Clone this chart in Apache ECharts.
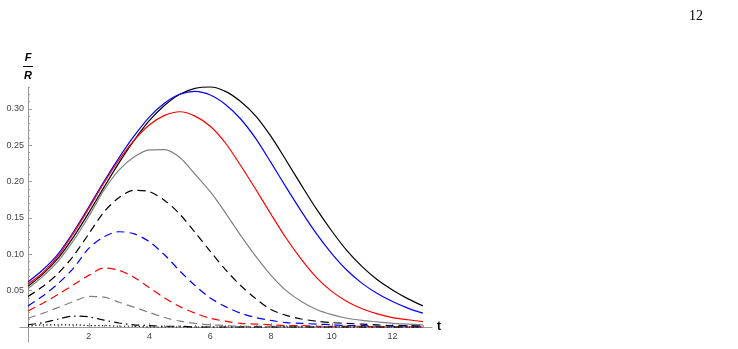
<!DOCTYPE html>
<html>
<head>
<meta charset="utf-8">
<script src="https://cdn.jsdelivr.net/npm/echarts@6/dist/echarts.min.js"></script>
<style>html,body{margin:0;padding:0;background:#fff}#c{width:738px;height:349px}</style>
</head>
<body>
<div id="c"></div>
<script>
const tVals = [0,0.5,1,1.5,2,2.5,3,3.5,4,4.5,5,5.5,6,6.5,7,7.5,8,8.5,9,9.5,10,10.5,11,11.5,12,12.5,13];
const blackSolid = [0.056,0.073,0.095,0.124,0.157,0.192,0.226,0.257,0.284,0.305,0.320,0.328,0.330,0.324,0.310,0.290,0.262,0.229,0.195,0.162,0.132,0.105,0.083,0.065,0.051,0.039,0.029];
const blueSolid  = [0.062,0.079,0.101,0.131,0.165,0.200,0.233,0.263,0.289,0.308,0.320,0.324,0.319,0.306,0.286,0.259,0.226,0.192,0.159,0.128,0.101,0.078,0.060,0.046,0.035,0.026,0.019];
const redSolid   = [0.059,0.075,0.098,0.129,0.163,0.198,0.230,0.257,0.278,0.291,0.296,0.290,0.276,0.253,0.222,0.189,0.155,0.122,0.093,0.068,0.049,0.035,0.025,0.018,0.013,0.010,0.0075];
const graySolid  = [0.053,0.070,0.091,0.119,0.152,0.188,0.216,0.234,0.2435,0.244,0.233,0.210,0.186,0.157,0.126,0.097,0.071,0.050,0.035,0.024,0.017,0.012,0.009,0.007,0.005,0.004,0.003];
const blackDash  = [0.042,0.056,0.074,0.098,0.128,0.158,0.178,0.188,0.186,0.174,0.155,0.130,0.104,0.079,0.057,0.039,0.024,0.016,0.011,0.008,0.006,0.005,0.004,0.003,0.002,0.002,0.001];
const blueDash   = [0.029,0.043,0.060,0.081,0.108,0.124,0.131,0.128,0.117,0.099,0.077,0.057,0.040,0.028,0.019,0.013,0.009,0.006,0.005,0.004,0.003,0.002,0.002,0.001,0.001,0.001,0.001];
const redDash    = [0.022,0.033,0.045,0.058,0.071,0.081,0.078,0.068,0.054,0.040,0.028,0.019,0.012,0.008,0.005,0.004,0.003,0.002,0.002,0.001,0.001,0.001,0.001,0.000,0.000,0.000,0.000];
const grayDash   = [0.012,0.019,0.027,0.035,0.042,0.041,0.034,0.027,0.020,0.013,0.008,0.005,0.003,0.002,0.001,0.001,0.001,0.000,0.000,0.000,0.000,0.000,0.000,0.000,0.000,0.000,0.000];
const blackDashDot = [0.003,0.006,0.011,0.015,0.014,0.0095,0.0055,0.003,0.002,0.001,0.001,0.000,0.000,0.000,0.000,0.000,0.000,0.000,0.000,0.000,0.000,0.000,0.000,0.000,0.000,0.000,0.000];
const blackDotted  = [0.001,0.003,0.003,0.003,0.002,0.002,0.001,0.001,0.000,0.000,0.000,0.000,0.000,0.000,0.000,0.000,0.000,0.000,0.000,0.000,0.000,0.000,0.000,0.000,0.000,0.000,0.000];

const xLabels = [2,4,6,8,10,12];
const yLabels = [0.05,0.10,0.15,0.20,0.25,0.30];
const xMinor = [];
for (let i = 1; i <= 26; i++) xMinor.push(i * 0.5);
const yMinor = [];
for (let i = 1; i <= 33; i++) yMinor.push(+(i * 0.01).toFixed(2));

const seriesDefs = [
  [blackSolid, '#000000', 'solid'],
  [blueSolid, '#0000ff', 'solid'],
  [redSolid, '#ff0000', 'solid'],
  [graySolid, '#808080', 'solid'],
  [blackDash, '#000000', [8, 5]],
  [blueDash, '#0000ff', [8, 5]],
  [redDash, '#ff0000', [8, 5]],
  [grayDash, '#808080', [8, 5]],
  [blackDashDot, '#000000', [8, 4, 1.5, 4]],
  [blackDotted, '#000000', [1.2, 2.5]]
];

const axisLabelStyle = { color: '#444', fontSize: 9, fontFamily: 'Liberation Sans, Arial, sans-serif' };
const axisColor = '#999';

const chart = echarts.init(document.getElementById('c'));
chart.setOption({
  animation: false,
  grid: [
    { left: 28, right: 306, top: 87, bottom: 22, containLabel: false, outerBoundsMode: 'none' },
    { left: 20, top: 327, width: 8, height: 15, containLabel: false, outerBoundsMode: 'none' }
  ],
  xAxis: [{
    type: 'value', min: 0, max: 13.3, gridIndex: 0,
    axisLine: { onZero: false, lineStyle: { color: axisColor, width: 1 } },
    axisTick: { inside: true, length: 2, customValues: xMinor, lineStyle: { color: axisColor } },
    axisLabel: Object.assign({ customValues: xLabels, margin: 5 }, axisLabelStyle),
    splitLine: { show: false },
    name: 't', nameLocation: 'end', nameGap: 5,
    nameTextStyle: { color: '#000', fontWeight: 'bold', fontSize: 12, fontFamily: 'Liberation Sans, Arial, sans-serif', verticalAlign: 'middle' }
  }, {
    type: 'value', min: 0, max: 13.3, gridIndex: 0, position: 'bottom',
    axisLine: { show: false, onZero: false },
    axisTick: { inside: true, length: 4, customValues: xLabels, lineStyle: { color: axisColor } },
    axisLabel: { show: false }, splitLine: { show: false }
  }, {
    type: 'value', min: 0, max: 1, gridIndex: 1, position: 'top',
    axisLine: { show: true, onZero: false, lineStyle: { color: axisColor, width: 1 } },
    axisTick: { show: false }, axisLabel: { show: false }, splitLine: { show: false }
  }],
  yAxis: [{
    type: 'value', min: 0, max: 0.33, gridIndex: 0,
    axisLine: { onZero: false, lineStyle: { color: axisColor, width: 1 } },
    axisTick: { inside: true, length: 2, customValues: yMinor, lineStyle: { color: axisColor } },
    axisLabel: Object.assign({ customValues: yLabels, margin: 4, formatter: v => v.toFixed(2) }, axisLabelStyle),
    splitLine: { show: false }
  }, {
    type: 'value', min: 0, max: 0.33, gridIndex: 0, position: 'left',
    axisLine: { show: false, onZero: false },
    axisTick: { inside: true, length: 4, customValues: yLabels, lineStyle: { color: axisColor } },
    axisLabel: { show: false }, splitLine: { show: false }
  }, {
    type: 'value', min: 0, max: 1, gridIndex: 1, position: 'right',
    axisLine: { show: true, onZero: false, lineStyle: { color: axisColor, width: 1 } },
    axisTick: { show: false }, axisLabel: { show: false }, splitLine: { show: false }
  }],
  series: seriesDefs.map(([vals, color, type]) => ({
    type: 'line',
    xAxisIndex: 0, yAxisIndex: 0,
    data: tVals.map((t, i) => [t, vals[i]]),
    smooth: 0.3,
    showSymbol: false,
    clip: false,
    lineStyle: { color, width: 1.2, type },
    z: 3
  })),
  graphic: [
    { type: 'text', left: 689, top: 9, style: { text: '12', fontSize: 14, fontFamily: 'Liberation Serif, Times New Roman, serif', fill: '#000' } },
    { type: 'text', x: 28, y: 58, style: { text: 'F', fontSize: 11, fontWeight: 'bold', fontStyle: 'italic', fontFamily: 'Liberation Sans, Arial, sans-serif', fill: '#000', align: 'center', verticalAlign: 'middle' } },
    { type: 'line', shape: { x1: 23, y1: 66.5, x2: 33, y2: 66.5 }, style: { stroke: '#000', lineWidth: 1 } },
    { type: 'text', x: 28, y: 76, style: { text: 'R', fontSize: 11, fontWeight: 'bold', fontStyle: 'italic', fontFamily: 'Liberation Sans, Arial, sans-serif', fill: '#000', align: 'center', verticalAlign: 'middle' } }
  ]
});
</script>
</body>
</html>
